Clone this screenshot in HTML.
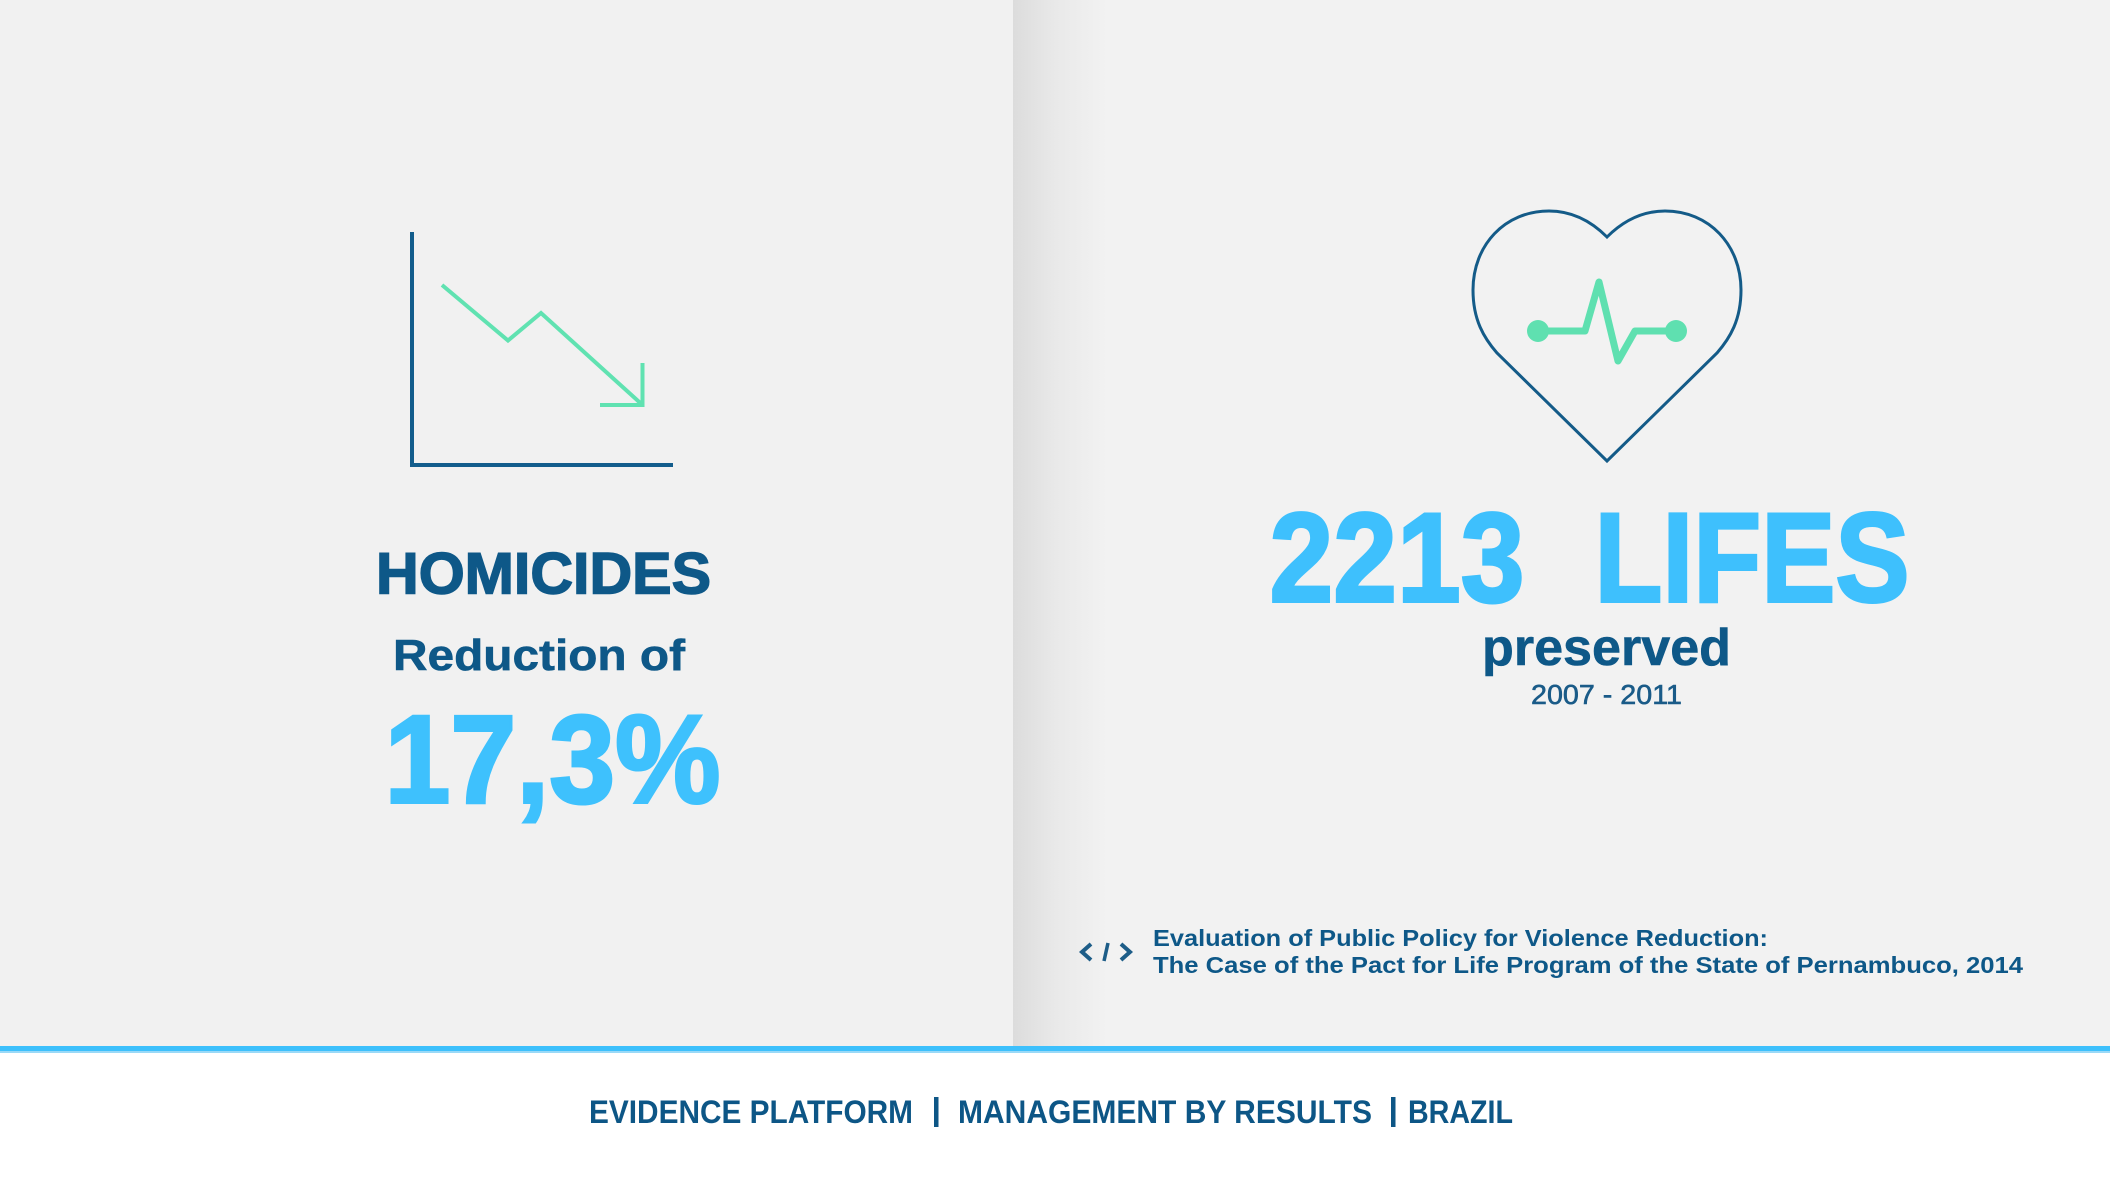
<!DOCTYPE html>
<html>
<head>
<meta charset="utf-8">
<style>
  html,body{margin:0;padding:0;background:#ffffff;}
  body{width:2110px;height:1187px;overflow:hidden;}
  svg{display:block;}
  text{font-family:"Liberation Sans", sans-serif;}
</style>
</head>
<body>
<svg width="2110" height="1187" viewBox="0 0 2110 1187" xmlns="http://www.w3.org/2000/svg">
  <defs>
    <linearGradient id="shadow" x1="0" x2="1" y1="0" y2="0">
      <stop offset="0" stop-color="#dcdcdc"/>
      <stop offset="0.45" stop-color="#e9e9e9"/>
      <stop offset="1" stop-color="#f2f2f2"/>
    </linearGradient>
  </defs>

  <!-- backgrounds -->
  <rect x="0" y="0" width="1013" height="1046" fill="#f1f1f1"/>
  <rect x="1013" y="0" width="1097" height="1046" fill="#f2f2f2"/>
  <rect x="1013" y="0" width="95" height="1046" fill="url(#shadow)"/>
  <rect x="0" y="1046" width="2110" height="5" fill="#3dc0fc"/>
  <rect x="0" y="1051" width="2110" height="2" fill="#9ad9f7"/>
  <rect x="0" y="1053" width="2110" height="134" fill="#ffffff"/>

  <!-- left chart icon -->
  <polyline points="412,232 412,465 673,465" fill="none" stroke="#135d8c" stroke-width="4"/>
  <polyline points="442,285 508,340.5 541,313 642.5,405" fill="none" stroke="#60e2b1" stroke-width="4" stroke-linejoin="miter"/>
  <polyline points="642.5,363 642.5,405 600,405" fill="none" stroke="#60e2b1" stroke-width="4"/>

  <!-- left texts -->
  <text x="376" y="593.5" font-size="58" font-weight="bold" fill="#0e5888" stroke="#0e5888" stroke-width="1.5" textLength="335" lengthAdjust="spacingAndGlyphs">HOMICIDES</text>
  <text x="393" y="670" font-size="44" font-weight="bold" fill="#0e5888" stroke="#0e5888" stroke-width="0.6" textLength="292" lengthAdjust="spacingAndGlyphs">Reduction of</text>
  <text x="384.5" y="802.5" font-size="125" font-weight="bold" fill="#3ec1fd" stroke="#3ec1fd" stroke-width="3" textLength="336" lengthAdjust="spacingAndGlyphs">17,3%</text>

  <!-- heart icon -->
  <path d="M1607,237 C1588,218 1568,211 1549,211 C1505,211 1473,245 1473,290 C1473,320 1484,338 1497,353 L1607,461 L1717,353 C1730,338 1741,320 1741,290 C1741,245 1709,211 1665,211 C1646,211 1626,218 1607,237 Z" fill="none" stroke="#145b88" stroke-width="3"/>
  <polyline points="1538,331 1585,331 1599,282 1618,361 1635,331 1676,331" fill="none" stroke="#5fe0b0" stroke-width="7" stroke-linejoin="round" stroke-linecap="round"/>
  <circle cx="1538" cy="331" r="11" fill="#5fe0b0"/>
  <circle cx="1676" cy="331" r="11" fill="#5fe0b0"/>

  <!-- right texts -->
  <text x="1269.5" y="601.5" font-size="127" font-weight="bold" fill="#3ec0fd" stroke="#3ec0fd" stroke-width="3" textLength="255" lengthAdjust="spacingAndGlyphs">2213</text>
  <text x="1594.5" y="601.5" font-size="127" font-weight="bold" fill="#3ec0fd" stroke="#3ec0fd" stroke-width="3" textLength="315" lengthAdjust="spacingAndGlyphs">LIFES</text>
  <text x="1482" y="665" font-size="52" font-weight="bold" fill="#0e5888" stroke="#0e5888" stroke-width="0.6" textLength="249" lengthAdjust="spacingAndGlyphs">preserved</text>
  <text x="1531" y="704" font-size="28" fill="#1a5b88" stroke="#1a5b88" stroke-width="0.6" textLength="151" lengthAdjust="spacingAndGlyphs">2007 - 2011</text>

  <!-- citation -->
  <polyline points="1091,944 1082,952 1091,960" fill="none" stroke="#1d5d88" stroke-width="4"/>
  <line x1="1108" y1="943" x2="1104" y2="961" stroke="#1d5d88" stroke-width="3.5"/>
  <polyline points="1121,944 1130,952 1121,960" fill="none" stroke="#1d5d88" stroke-width="4"/>
  <text x="1153" y="946" font-size="23" font-weight="bold" fill="#0e5888" textLength="615" lengthAdjust="spacingAndGlyphs">Evaluation of Public Policy for Violence Reduction:</text>
  <text x="1153" y="973" font-size="23" font-weight="bold" fill="#0e5888" textLength="870" lengthAdjust="spacingAndGlyphs">The Case of the Pact for Life Program of the State of Pernambuco, 2014</text>

  <!-- footer -->
  <text x="589" y="1123" font-size="32" font-weight="bold" fill="#0d5686" textLength="324" lengthAdjust="spacingAndGlyphs">EVIDENCE PLATFORM</text>
  <rect x="934" y="1097" width="4.5" height="30" fill="#0d5686"/>
  <text x="958" y="1123" font-size="32" font-weight="bold" fill="#0d5686" textLength="414" lengthAdjust="spacingAndGlyphs">MANAGEMENT BY RESULTS</text>
  <rect x="1391" y="1097" width="4.5" height="30" fill="#0d5686"/>
  <text x="1408" y="1123" font-size="32" font-weight="bold" fill="#0d5686" textLength="105" lengthAdjust="spacingAndGlyphs">BRAZIL</text>
</svg>
</body>
</html>
